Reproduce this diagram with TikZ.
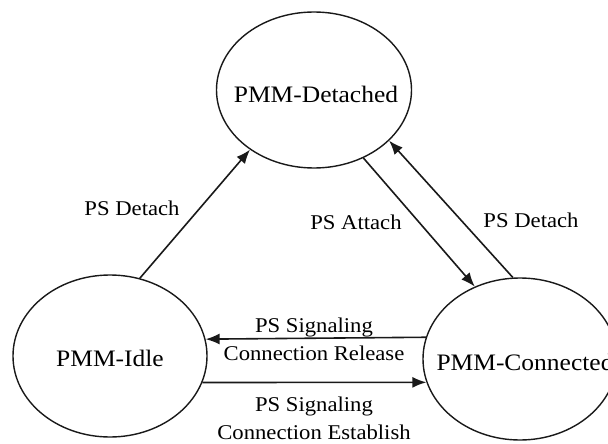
\documentclass[tikz,border=0pt]{standalone}
\usepackage{fontspec}
\setmainfont{Liberation Serif}[FakeStretch=1.08]
\usetikzlibrary{arrows.meta,shapes.geometric}

\tikzset{
  state/.style={draw=black!90, line width=1.4pt, ellipse, inner sep=0pt,
    minimum width=194pt, minimum height=162pt},
  stname/.style={font=\fontsize{23.6}{28}\selectfont, inner sep=0pt},
  trans/.style={draw=black!90, line width=1.6pt,
    -{Latex[length=14pt,width=11pt]}},
  lbl/.style={inner sep=0pt, align=center,
    font=\fontsize{21}{28}\selectfont}
}

\begin{document}
\begin{tikzpicture}[x=1pt, y=-1pt]
  \useasboundingbox (0,0) rectangle (608,444);
  \clip (0,0) rectangle (608,444);

  % states: fixed-size ellipses with the name set on top
  \node[state, minimum height=156pt, minimum width=195pt,
        label={[stname, xshift=2pt, yshift=-4pt]center:PMM-Detached}] (det) at (314,90) {};
  \node[state, label={[stname, yshift=-2pt]center:PMM-Idle}] (idle) at (110,356) {};
  \node[state, label={[stname, xshift=5pt, yshift=-3pt]center:PMM-Connected}] (conn) at (520,359) {};

  % transitions
  \draw[trans] (idle.69.4) -- (det.223);
  \draw[trans] (det.-54) -- (conn.122);
  \draw[trans] (conn.95) -- (det.-34.8);
  \draw[trans] (conn.167.4) -- (idle.10.8);
  \draw[trans] (idle.-16.5) -- (conn.194.5);

  % transition labels
  \node[lbl] (l1) at (132,208) {PS Detach};
  \node[lbl] (l2) at (356,222) {PS Attach};
  \node[lbl] (l3) at (531,220) {PS Detach};
  \node[lbl] (l4) at (314,339) {PS Signaling\\Connection Release};
  \node[lbl] (l5) at (314,418) {PS Signaling\\Connection Establish};
\end{tikzpicture}
\end{document}
